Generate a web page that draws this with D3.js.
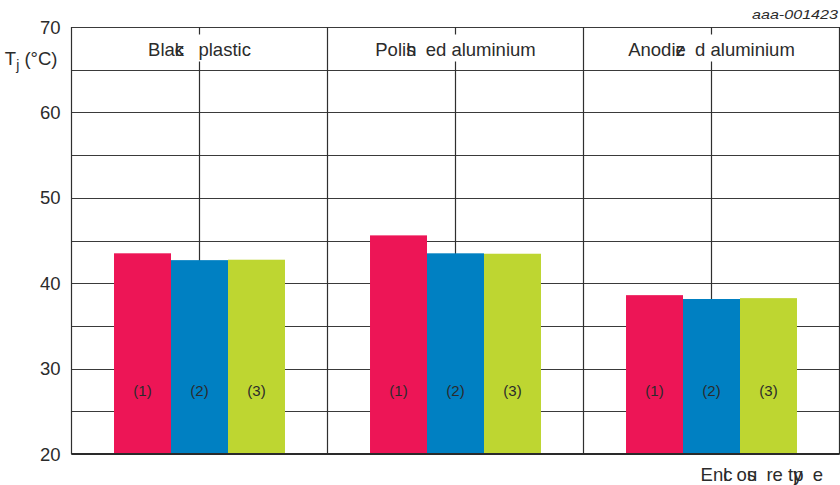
<!DOCTYPE html>
<html>
<head>
<meta charset="utf-8">
<script src="https://cdn.jsdelivr.net/npm/d3@7"></script>
<style>
  html, body { margin: 0; padding: 0; background: #fff; }
  svg { display: block; }
  text { font-family: "Liberation Sans", Arial, sans-serif; fill: #2b2b2b; }
</style>
</head>
<body>
<svg id="chart" width="840" height="485"></svg>
<script>
// ---------- DATA ----------
const categories = ["Black plastic", "Polished aluminium", "Anodized aluminium"];
const seriesNames = ["(1)", "(2)", "(3)"];
const series1 = [43.5, 45.6, 38.6];
const series2 = [42.7, 43.5, 38.15];
const series3 = [42.75, 43.45, 38.25];
const yTickLabels = [20, 30, 40, 50, 60, 70];
const yGridValues = [20, 25, 30, 35, 40, 45, 50, 55, 60, 65, 70];
const seriesColors = ["#ED1556", "#0080C2", "#BED631"];

(function () {
// ---------- LAYOUT ----------
const svg = d3.select("#chart");
const plotL = 71.5, plotR = 839.5, plotT = 27, plotB = 454;
const labelLevel = 27.4;

const y = d3.scaleLinear().domain([20, 70]).range([plotB, plotT]);
const x0 = d3.scaleBand().domain(categories).range([plotL, plotR]).paddingInner(0).paddingOuter(0);
const x1 = d3.scaleBand().domain(seriesNames).range([0, x0.bandwidth()]).paddingInner(0).paddingOuter(0.746);

const seriesValues = [series1, series2, series3];
const table = categories.map((c, i) => ({
  cat: c,
  vals: seriesNames.map((s, j) => ({ s, v: seriesValues[j][i], color: seriesColors[j] }))
}));

// helper: draw text with overlapped glyph pairs (as in the reference)
const measurer = svg.append("text").attr("visibility", "hidden");
function charW(ch, size) {
  measurer.attr("font-size", size).text(ch === " " ? "\u00a0" : ch);
  return measurer.node().getComputedTextLength();
}
function garbled(sel, str, pairs, size) {
  let i = 0, pendingDx = 0;
  let run = "";
  const flush = () => {
    if (run.length) {
      sel.append("tspan").attr("dx", pendingDx || null).text(run);
      pendingDx = 0; run = "";
    }
  };
  while (i < str.length) {
    if (pairs.includes(i)) {
      flush();
      const a = str[i], b = str[i + 1];
      const wa = charW(a, size);
      sel.append("tspan").attr("dx", pendingDx || null).text(a);
      sel.append("tspan").attr("dx", -wa).text(b);
      pendingDx = wa;
      i += 2;
    } else {
      run += str[i];
      i++;
    }
  }
  flush();
}

// ---------- GRID ----------
const g = svg.append("g");
g.selectAll("line.h").data(yGridValues).join("line")
  .attr("x1", plotL).attr("x2", plotR)
  .attr("y1", d => Math.round(y(d)) + 0.5).attr("y2", d => Math.round(y(d)) + 0.5)
  .attr("stroke", "#3a3a3a").attr("stroke-width", 1.2);

const boundaries = categories.map(c => x0(c)).concat([x0.range()[1]]);
const centers = categories.map(c => x0(c) + x0.bandwidth() / 2);
g.selectAll("line.vb").data(boundaries).join("line")
  .attr("x1", d => Math.round(d) - 0.5).attr("x2", d => Math.round(d) - 0.5)
  .attr("y1", y(70)).attr("y2", y(20))
  .attr("stroke", "#2f2f2f").attr("stroke-width", 1.2);
g.selectAll("line.vc").data(centers).join("line")
  .attr("x1", d => Math.round(d) - 0.5).attr("x2", d => Math.round(d) - 0.5)
  .attr("y1", y(70)).attr("y2", y(20))
  .attr("stroke", "#2f2f2f").attr("stroke-width", 1.2);

// ---------- BARS ----------
const groups = svg.append("g").selectAll("g").data(table).join("g")
  .attr("transform", d => `translate(${x0(d.cat)},0)`);
groups.selectAll("rect").data(d => d.vals).join("rect")
  .attr("x", d => x1(d.s))
  .attr("width", x1.bandwidth())
  .attr("y", d => y(d.v))
  .attr("height", d => y(20) - y(d.v))
  .attr("fill", d => d.color);
groups.selectAll("text").data(d => d.vals).join("text")
  .attr("x", d => x1(d.s) + x1.bandwidth() / 2)
  .attr("y", y(labelLevel))
  .attr("dy", "0.35em")
  .attr("text-anchor", "middle")
  .attr("font-size", 15)
  .attr("fill", "#333")
  .text(d => d.s);

svg.append("line")
  .attr("x1", plotL).attr("x2", plotR)
  .attr("y1", y(20)).attr("y2", y(20))
  .attr("stroke", "#2a2a2a").attr("stroke-width", 2);

// ---------- CATEGORY LABELS ----------
const catPairs = [[3], [4], [5]];
categories.forEach((c, i) => {
  const cx = centers[i];
  const bg = svg.append("rect").attr("fill", "#fff");
  const t = svg.append("text")
    .attr("x", cx).attr("y", 55.5)
    .attr("text-anchor", "middle")
    .attr("font-size", 18.5);
  garbled(t, c, catPairs[i], 18.5);
  const bb = t.node().getBBox();
  bg.attr("x", bb.x - 3).attr("y", 34.5).attr("width", bb.width + 6).attr("height", 27);
});

// ---------- Y AXIS LABELS ----------
svg.append("g").selectAll("text").data(yTickLabels).join("text")
  .attr("x", 60.5)
  .attr("y", d => y(d))
  .attr("dy", "0.36em")
  .attr("text-anchor", "end")
  .attr("font-size", 18.5)
  .text(d => d);

const yt = svg.append("text")
  .attr("x", 57.5).attr("y", 65)
  .attr("text-anchor", "end")
  .attr("font-size", 18.5);
yt.append("tspan").text("T");
yt.append("tspan").attr("font-size", 14).attr("dy", 5).text("j");
yt.append("tspan").attr("dy", -5).text(" (°C)");

// ---------- AXIS TITLE & ID ----------
const xt = svg.append("text")
  .attr("x", 823).attr("y", 480.5)
  .attr("text-anchor", "end")
  .attr("font-size", 18.5);
garbled(xt, "Enclosure type", [2, 5, 11], 18.5);

svg.append("text")
  .attr("x", 838).attr("y", 18.5)
  .attr("text-anchor", "end")
  .attr("font-size", 13.5)
  .attr("font-style", "italic")
  .attr("textLength", 86)
  .attr("lengthAdjust", "spacingAndGlyphs")
  .text("aaa-001423");

measurer.remove();
})();
</script>
</body>
</html>
